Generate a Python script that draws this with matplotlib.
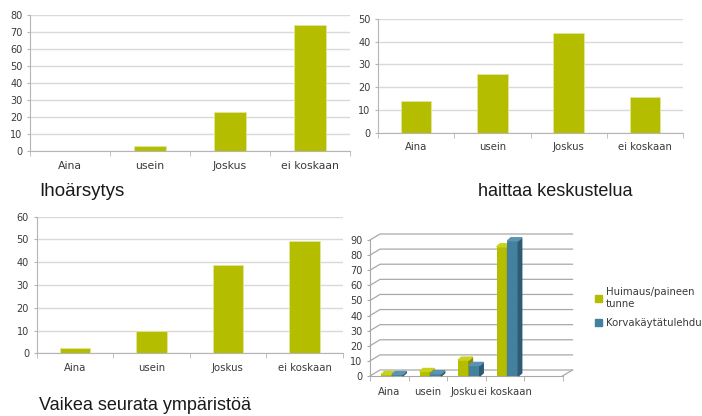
import numpy as np
import matplotlib.pyplot as plt
from matplotlib.patches import Polygon, Patch

# Answer categories shared by all four charts
categories = ["Aina", "usein", "Joskus", "ei koskaan"]

# Single-series charts
ihoarsytys = [0, 3, 23, 74]
haittaa_keskustelua = [14, 26, 44, 15.5]
vaikea_seurata = [2.3, 9.6, 38.6, 49.5]

# 3D clustered chart (two series)
huimaus = [1, 3, 10.5, 85.5]
korvatulehdus = [1, 1.5, 7, 89.5]
series_names = ["Huimaus/paineen\ntunne", "Korvakäytätulehdus"]

GREEN = "#b5bd00"
GREEN_SIDE = "#878d00"
GREEN_TOP = "#c9d21a"
BLUE = "#44809f"
BLUE_SIDE = "#2c5b73"
BLUE_TOP = "#5b93b0"
GRID = "#d9d9d9"
AXIS = "#b5b5b5"
TICK_TXT = "#3a3a3a"

W, H = 702, 416
fig = plt.figure(figsize=(W / 100, H / 100), dpi=100)


def px_rect(left, top, right, bottom):
    return [left / W, 1 - bottom / H, (right - left) / W, (bottom - top) / H]


def flat_bars(rect, values, ymax, label_size):
    ax = fig.add_axes(rect)
    x = np.arange(len(values))
    ax.bar(x, values, width=0.4, color=GREEN, edgecolor="#e2e69a",
           linewidth=0.6, zorder=3)
    ax.set_xlim(-0.5, len(values) - 0.5)
    ax.set_ylim(0, ymax)
    ax.set_yticks(np.arange(0, ymax + 1, 10))
    ax.set_xticks(x)
    ax.set_xticklabels(categories)
    ax.set_xticks(np.arange(-0.5, len(values), 1), minor=True)
    ax.yaxis.grid(True, color=GRID, linewidth=1, zorder=0)
    ax.set_axisbelow(True)
    for s in ("top", "right"):
        ax.spines[s].set_visible(False)
    for s in ("left", "bottom"):
        ax.spines[s].set_color(AXIS)
    ax.tick_params(axis="x", which="major", length=0, pad=7,
                   labelsize=label_size, labelcolor=TICK_TXT)
    ax.tick_params(axis="x", which="minor", length=3.5, color=AXIS)
    ax.tick_params(axis="y", length=2.5, color=AXIS, pad=3,
                   labelsize=7, labelcolor=TICK_TXT)
    return ax


flat_bars(px_rect(30, 15, 350, 151), ihoarsytys, 80, 7.8)
flat_bars(px_rect(378, 19, 683, 132.7), haittaa_keskustelua, 50, 7.3)
flat_bars(px_rect(36.7, 216.7, 342.7, 353.3), vaikea_seurata, 60, 7.3)

fig.text(39 / W, 1 - 196.5 / H, "Ihoärsytys", fontsize=13.5,
         family="Liberation Sans", va="baseline", color="#1a1a1a")
fig.text(478 / W, 1 - 196.5 / H, "haittaa keskustelua", fontsize=13,
         family="Liberation Sans", va="baseline", color="#1a1a1a")
fig.text(39 / W, 1 - 409.5 / H, "Vaikea seurata ympäristöä", fontsize=13,
         family="Liberation Sans", va="baseline", color="#1a1a1a")

# 3D-style clustered column chart: the axes is the front plane,
# back wall and bar depth are drawn as offsets in data units
left, top, right, bottom = 370, 240, 562.5, 376
ax = fig.add_axes(px_rect(left, top, right, bottom))
n_slots = 5
ymax = 90
ax.set_xlim(-0.5, n_slots - 0.5)
ax.set_ylim(0, ymax)
ux = (right - left) / n_slots          # px per category
uy = (bottom - top) / ymax             # px per unit
wall_dx, wall_dy = 10 / ux, 6 / uy
bar_dx, bar_dy = 3.5 / ux, 3 / uy

wall = "#a9a9a9"
for y in np.arange(0, ymax + 1, 10):
    ax.plot([-0.5, -0.5 + wall_dx, n_slots - 0.5 + wall_dx],
            [y, y + wall_dy, y + wall_dy], color=wall, lw=0.9,
            clip_on=False, zorder=1)
ax.plot([n_slots - 0.5, n_slots - 0.5 + wall_dx], [0, wall_dy],
        color=wall, lw=0.9, clip_on=False, zorder=1)

bw = 0.28
shift = 0.07
faces = [(huimaus, -bw, GREEN, GREEN_SIDE, GREEN_TOP),
         (korvatulehdus, 0.0, BLUE, BLUE_SIDE, BLUE_TOP)]
for i in range(len(categories)):
    for k, (vals, off, c_front, c_side, c_top) in enumerate(faces):
        v = vals[i]
        x0 = i + shift + off
        x1 = x0 + bw
        z = 3 + i * 3 + k
        ax.bar(x0, v, width=bw, align="edge", color=c_front,
               zorder=z, clip_on=False)
        ax.add_patch(Polygon([(x1, 0), (x1, v), (x1 + bar_dx, v + bar_dy),
                              (x1 + bar_dx, bar_dy)], closed=True,
                             color=c_side, zorder=z, clip_on=False))
        ax.add_patch(Polygon([(x0, v), (x1, v), (x1 + bar_dx, v + bar_dy),
                              (x0 + bar_dx, v + bar_dy)], closed=True,
                             color=c_top, zorder=z, clip_on=False))

for s in ("top", "right"):
    ax.spines[s].set_visible(False)
for s in ("left", "bottom"):
    ax.spines[s].set_color(wall)
    ax.spines[s].set_zorder(2)
ax.set_yticks(np.arange(0, ymax + 1, 10))
ax.set_xticks(np.arange(len(categories)))
ax.set_xticklabels(categories)
ax.set_xticks(np.arange(-0.5, n_slots, 1), minor=True)
ax.tick_params(axis="x", which="major", length=0, pad=8,
               labelsize=7.3, labelcolor=TICK_TXT)
ax.tick_params(axis="x", which="minor", length=3.5, color=wall)
ax.tick_params(axis="y", length=2.5, color=wall, pad=3,
               labelsize=7, labelcolor=TICK_TXT)
for lab in ax.get_xticklabels():
    lab.set_bbox(dict(facecolor="white", edgecolor="none", pad=0.5))

handles = [Patch(color=GREEN), Patch(color=BLUE)]
fig.legend(handles, series_names, loc="upper left",
           bbox_to_anchor=(588 / W, 1 - 280 / H), frameon=False,
           fontsize=7.3, handlelength=0.7, handleheight=0.7,
           handletextpad=0.35, labelspacing=0.9, borderpad=0.2,
           labelcolor=TICK_TXT)

fig.savefig("out.png", dpi=100)
